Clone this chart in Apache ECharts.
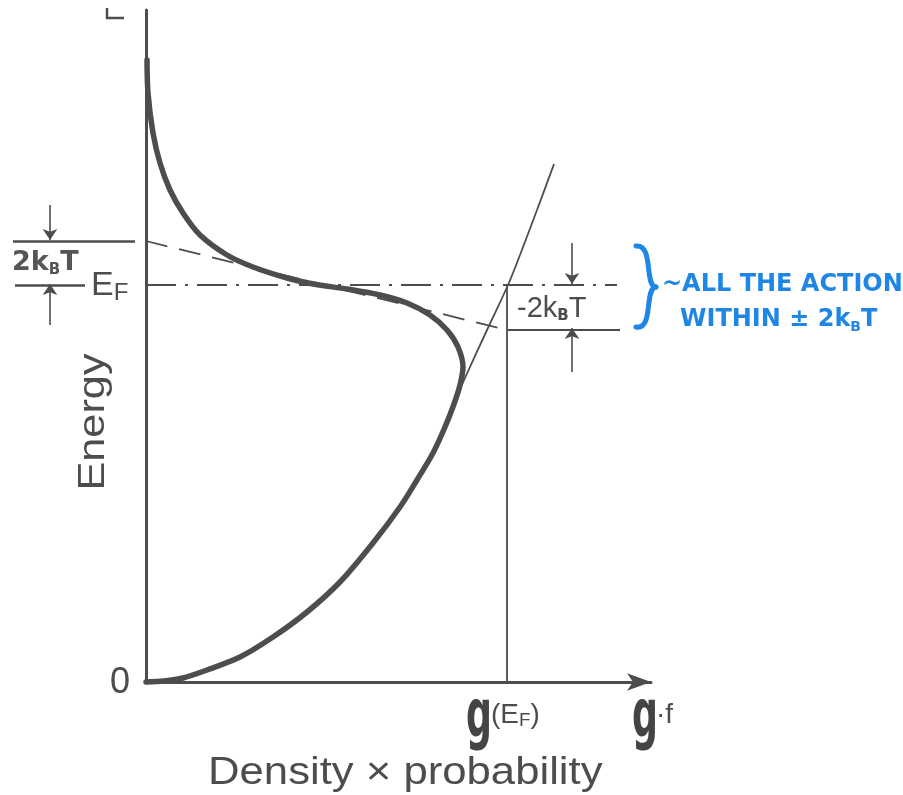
<!DOCTYPE html>
<html>
<head>
<meta charset="utf-8">
<script src="https://cdn.jsdelivr.net/npm/echarts@6/dist/echarts.min.js"></script>
<style>
  html, body { margin: 0; padding: 0; background: #fff; }
  #chart { width: 903px; height: 795px; }
</style>
</head>
<body>
<div id="chart"></div>
<script>
// energy axis runs 0..672, density axis 0..505 (arbitrary units)
const fermiE = 397;
const kT2 = 44;

// g(E)·f(E), traced along the thick curve from the origin, round the nose, up to the top
const gfX = [0, 18, 37, 61, 94, 127, 161, 194, 227, 254, 271, 287, 299, 308, 314, 317, 312, 301, 284, 261, 234, 201, 167, 141, 107, 81, 54, 37, 24, 14, 7, 2, 1];
const gfY = [0, 1, 4, 12, 25, 45, 70, 100, 139, 175, 202, 229, 255, 278, 297, 315, 335, 352, 367, 379, 387, 393, 398, 404, 415, 427, 447, 469, 492, 519, 549, 589, 622];

// g(E), thin line above the nose
const dosX = [305, 319, 341, 362, 374, 391, 408];
const dosY = [272, 304, 352, 397, 427, 472, 518];

// tangent at E_F (dashed)
const tangentX = [0, 361];
const tangentY = [fermiE + kT2, fermiE - kT2 - 1];

const gEF = 361;      // g(E_F) on the density axis

const ink = '#4d4d4d';
const blue = '#1f86e6';

const chart = echarts.init(document.getElementById('chart'));

const zip = (xs, ys) => xs.map((x, i) => [x, ys[i]]);

const option = {
  animation: false,
  backgroundColor: '#fff',
  grid: { left: 146, top: 10, right: 252, bottom: 113 },
  xAxis: {
    type: 'value', min: 0, max: 505,
    axisLine: {
      show: true, onZero: false,
      lineStyle: { color: ink, width: 3 },
      symbol: ['none', 'arrow'], symbolSize: [13, 24]
    },
    axisTick: { show: false }, axisLabel: { show: false }, splitLine: { show: false }
  },
  yAxis: {
    type: 'value', min: 0, max: 672,
    axisLine: { show: true, onZero: false, lineStyle: { color: ink, width: 3 } },
    axisTick: { show: false }, axisLabel: { show: false }, splitLine: { show: false }
  },
  series: [
    {
      name: 'g', type: 'line', data: zip(dosX, dosY), smooth: 0.3,
      showSymbol: false, clip: false,
      lineStyle: { color: ink, width: 1.8 }
    },
    {
      name: 'tangent', type: 'line', data: zip(tangentX, tangentY),
      showSymbol: false, clip: false,
      lineStyle: { color: ink, width: 1.8, type: [22, 12] }
    },
    {
      name: 'g·f', type: 'line', data: zip(gfX, gfY), smooth: 0.3,
      showSymbol: false, clip: false,
      lineStyle: { color: ink, width: 5.5, cap: 'round', join: 'round' }
    },
    {
      name: 'guides', type: 'lines', coordinateSystem: 'cartesian2d', clip: false,
      polyline: false, symbol: 'none', silent: true,
      lineStyle: { color: ink, width: 1.8, opacity: 1 },
      data: [
        { coords: [[0, fermiE], [471, fermiE]], lineStyle: { type: [30, 9, 3, 9] } },
        { coords: [[gEF, 0], [gEF, fermiE]] },
        { coords: [[gEF, fermiE - kT2 - 1], [474, fermiE - kT2 - 1]] },
        { coords: [[-133, fermiE + kT2], [-11, fermiE + kT2]], lineStyle: { width: 2.5 } },
        { coords: [[-131, fermiE], [-61, fermiE]], lineStyle: { width: 2.5 } }
      ]
    },
    {
      name: 'arrows', type: 'lines', coordinateSystem: 'cartesian2d', clip: false,
      polyline: false, symbol: ['none', 'arrow'], symbolSize: 11, silent: true,
      lineStyle: { color: ink, width: 1.6, opacity: 1 },
      data: [
        { coords: [[426, 439], [426, fermiE + 1]] },
        { coords: [[426, 310], [426, fermiE - kT2 + 1]] },
        { coords: [[-96, 477], [-96, fermiE + kT2 + 1]] },
        { coords: [[-96, 357], [-96, fermiE + 1]] }
      ]
    }
  ],
  graphic: [
    // stray corner mark at top
    { type: 'polyline', shape: { points: [[107, 8], [107, 18], [124, 18]] }, style: { stroke: ink, lineWidth: 2.5, fill: null } },
    { type: 'text', x: 110, y: 683, style: { text: '0', font: '36px "Liberation Sans"', fill: ink, verticalAlign: 'middle' } },
    {
      type: 'text', x: 94, y: 422, rotation: Math.PI / 2, scaleX: 1.17,
      style: { text: 'Energy', font: '37px "Liberation Sans"', fill: ink, align: 'center', verticalAlign: 'middle' }
    },
    {
      type: 'text', left: 91, top: 269,
      style: {
        text: '{e|E}{s|F}', fill: ink,
        rich: { e: { font: '34px "Liberation Sans"', fill: ink }, s: { font: '24px "Liberation Sans"', fill: ink, padding: [14, 0, 0, 0] } }
      }
    },
    {
      type: 'text', left: 12, top: 249,
      style: {
        text: '{a|2k}{b|B}{a|T}', fill: '#555',
        rich: {
          a: { font: 'bold 27px "DejaVu Sans"', fill: '#555' },
          b: { font: 'bold 15px "DejaVu Sans"', fill: '#555', padding: [16, 0, 0, 0] }
        }
      }
    },
    {
      type: 'text', left: 517, top: 294,
      style: {
        text: '{a|-2k}{b|B}{a|T}', fill: ink,
        rich: {
          a: { font: '29px "Liberation Sans"', fill: ink },
          b: { font: 'bold 15px "DejaVu Sans"', fill: ink, padding: [16, 0, 0, 0] }
        }
      }
    },
    // g(E_F) and g·f labels
    { type: 'text', x: 466, y: 686, scaleX: 0.55, style: { text: 'g', font: 'bold 66px "DejaVu Sans"', fill: '#444', verticalAlign: 'top' } },
    {
      type: 'text', left: 491, top: 701,
      style: {
        text: '{a|(E}{b|F}{a|)}', fill: ink,
        rich: { a: { font: '28px "Liberation Sans"', fill: ink }, b: { font: '19px "Liberation Sans"', fill: ink, padding: [12, 0, 0, 0] } }
      }
    },
    { type: 'text', x: 632, y: 686, scaleX: 0.55, style: { text: 'g', font: 'bold 66px "DejaVu Sans"', fill: '#444', verticalAlign: 'top' } },
    { type: 'text', left: 656, top: 701, style: { text: '·f', font: '28px "Liberation Sans"', fill: ink } },
    {
      type: 'text', x: 208, y: 773, scaleX: 1.12,
      style: { text: 'Density × probability', font: '39px "Liberation Sans"', fill: ink, verticalAlign: 'middle' }
    },
    // blue handwritten brace and note
    {
      type: 'bezierCurve',
      shape: { x1: 636, y1: 246, cpx1: 654, cpy1: 244, cpx2: 644, cpy2: 286, x2: 656, y2: 287 },
      style: { stroke: blue, lineWidth: 5, fill: null, lineCap: 'round' }
    },
    {
      type: 'bezierCurve',
      shape: { x1: 656, y1: 287, cpx1: 644, cpy1: 288, cpx2: 654, cpy2: 330, x2: 636, y2: 327 },
      style: { stroke: blue, lineWidth: 5, fill: null, lineCap: 'round' }
    },
    { type: 'text', left: 662, top: 273, style: { text: '~ALL THE ACTION', font: 'bold 24px "DejaVu Sans"', fill: blue } },
    {
      type: 'text', left: 680, top: 308,
      style: {
        text: '{a|WITHIN ± 2k}{b|B}{a|T}', fill: blue,
        rich: {
          a: { font: 'bold 24px "DejaVu Sans"', fill: blue },
          b: { font: 'bold 14px "DejaVu Sans"', fill: blue, padding: [14, 0, 0, 0] }
        }
      }
    }
  ]
};

chart.setOption(option);
</script>
</body>
</html>
